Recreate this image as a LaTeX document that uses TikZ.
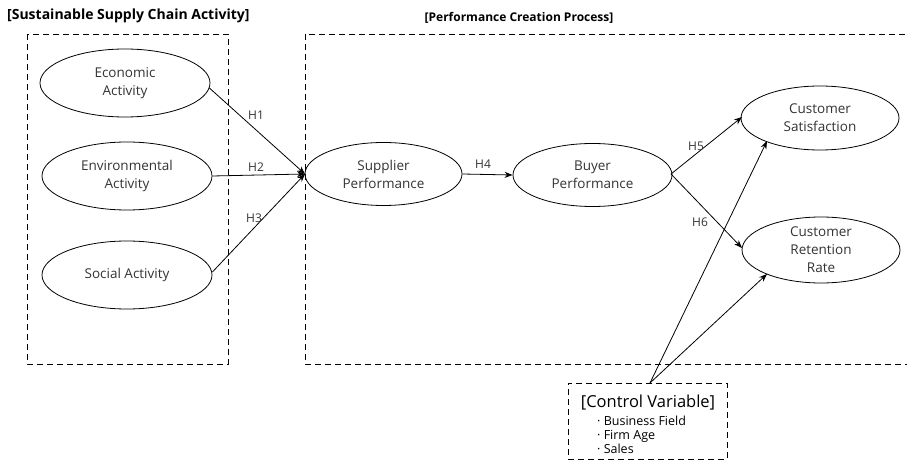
\documentclass[tikz,border=0pt]{standalone}
\usepackage{fontspec}
\setmainfont{Open Sans}
\usetikzlibrary{shapes.geometric,arrows.meta}
\begin{document}
\begin{tikzpicture}[x=1pt,y=-1pt,
  frame/.style={draw,line width=0.8pt,dash pattern=on 6pt off 4pt},
  oval/.style={draw,ellipse,line width=0.8pt,minimum width=#1,minimum height=68pt,inner sep=0pt,align=center,font=\fontsize{13.5}{18}\selectfont,text=black!80},
  oval/.default=170pt,
  link/.style={line width=0.8pt,-{Stealth[length=8pt,width=6pt]}},
  hyp/.style={font=\fontsize{12}{13}\selectfont,text=black!80,inner sep=1pt},
  title/.style={font=\bfseries\fontsize{#1}{15}\selectfont,inner sep=0pt},
  title/.default=13.5]
\useasboundingbox (0,0) rectangle (907,470);
\clip (0,0) rectangle (907,470);

% group frames
\draw[frame] (27,34) rectangle (228,364);
\draw[frame] (305,34) rectangle (915,364);
\node[title=14,anchor=west] (t1) at (7,16) {[Sustainable Supply Chain Activity]};
\node[title=12] (t2) at (519,18) {[Performance Creation Process]};

% constructs
\node[oval] (eco) at (125,83) {Economic\\Activity};
\node[oval] (env) at (127,176) {Environmental\\Activity};
\node[oval] (soc) at (127,275) {Social Activity};
\node[oval=157pt,minimum height=63pt] (sup) at (383.5,174) {Supplier\\Performance};
\node[oval=159pt,minimum height=63pt] (buy) at (592.5,175) {Buyer\\Performance};
\node[oval=158pt,minimum height=64pt] (sat) at (820,118) {Customer\\Satisfaction};
\node[oval=158pt,minimum height=66pt] (ret) at (821,250) {Customer\\Retention\\Rate};

% control variable box
\node[frame,minimum width=159pt,minimum height=76pt,inner sep=0pt] (ctl) at (647.5,421) {};
\node[font=\fontsize{16.5}{18}\selectfont,inner sep=0pt] (ctlt) at (648,403) {[Control Variable]};
\node[font=\fontsize{12.5}{14}\selectfont,align=left,anchor=north west,inner sep=0pt] (ctll) at (597,416)
  {· Business Field\\· Firm Age\\· Sales};
\coordinate (cs) at (650,383);

% hypothesised paths
\coordinate (m) at (305,174);
\draw[link] (eco.east) ++(-1,5) coordinate (e1) -- (m);
\draw[link] (env.east) -- (m);
\draw[link] (soc.east) ++(0,-3) coordinate (s1) -- (m);
\node[hyp] (h1) at (256,115) {H1};
\node[hyp] (h2) at (256,167) {H2};
\node[hyp] (h3) at (254,218) {H3};

\draw[link] (sup.east) -- (buy.west);
\node[hyp] (h4) at (483,164) {H4};

\coordinate (b) at (671,174);
\draw[link] (b) -- (742,117);
\draw[link] (b) -- (742,248);
\node[hyp] (h5) at (696,146) {H5};
\node[hyp] (h6) at (700,222) {H6};

% control paths
\draw[link] (cs) -- (767,141);
\draw[link] (cs) -- (767,274);
\end{tikzpicture}
\end{document}
